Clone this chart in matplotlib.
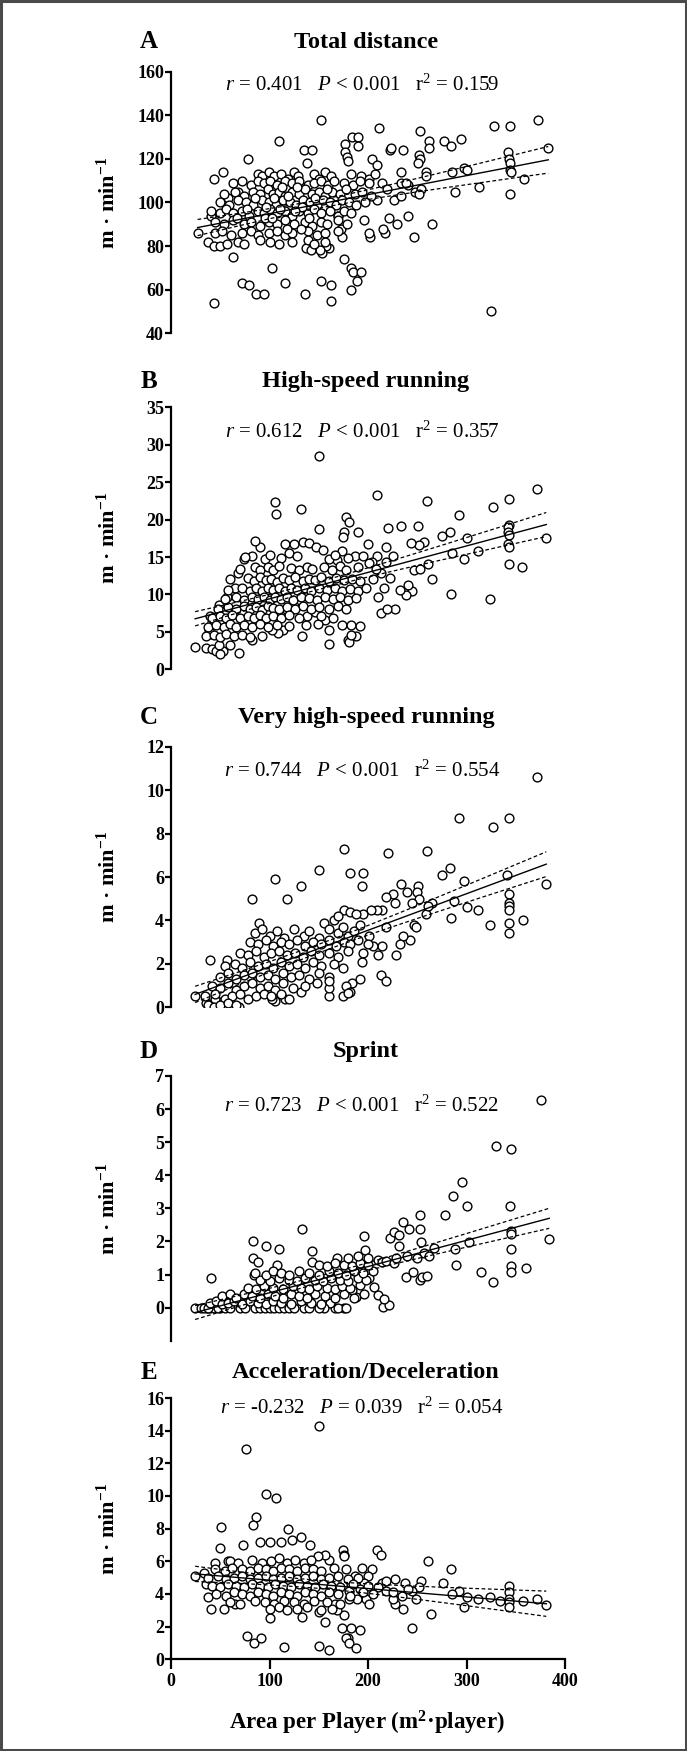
"""Five stacked scatter panels: match running metrics against area per player."""

import numpy as np
import matplotlib

matplotlib.use("Agg")
import matplotlib.pyplot as plt
from matplotlib.patches import Rectangle

W, H = 687, 1751

# ---- data: (area per player, m/min) ----
total_distance = [
    (27, 86), (44, 54), (44, 111), (53, 114), (41, 94), (38, 82), (44, 80), (50, 80), (57, 81), (63, 75),
    (58, 102), (68, 105), (78, 120), (72, 63), (79, 62), (86, 58), (94, 58), (103, 70), (110, 128), (116, 63),
    (136, 58), (135, 124), (143, 124), (138, 118), (152, 138), (152, 64), (162, 62), (162, 55), (176, 74),
    (183, 70), (185, 68), (193, 68), (189, 64), (183, 60), (177, 127), (177, 123), (184, 130), (190, 130),
    (190, 126), (179, 121), (180, 119), (211, 134), (204, 120), (209, 117), (222, 124), (223, 125), (236, 124),
    (253, 133), (262, 128), (262, 125), (252, 122), (253, 120), (251, 118), (277, 128), (284, 126), (294, 129),
    (285, 114), (297, 116), (301, 115), (328, 135), (344, 135), (373, 138), (383, 125), (342, 123), (343, 120),
    (344, 118), (344, 115), (345, 114), (344, 104), (358, 111), (325, 50), (313, 107), (288, 105), (265, 90),
    (247, 84), (241, 94), (229, 90), (217, 86), (215, 88), (202, 84), (201, 86), (221, 93), (226, 101),
    (209, 101), (234, 103), (234, 114), (233, 109), (214, 109), (219, 106), (248, 105), (254, 106), (252, 104),
    (259, 114), (259, 112), (241, 108), (239, 109), (196, 92), (174, 84), (173, 88), (170, 94), (160, 79),
    (157, 80), (153, 77), (151, 78), (137, 79), (142, 78),
    (88, 113), (92, 112), (99, 114), (105, 112), (112, 113), (119, 111), (125, 114), (129, 112), (145, 113),
    (150, 111), (156, 114), (162, 112), (183, 113), (193, 112), (201, 111), (207, 113),
    (63, 109), (72, 110), (81, 108), (88, 110), (94, 109), (101, 110), (108, 108), (116, 110), (123, 109),
    (130, 110), (139, 108), (145, 109), (152, 110), (159, 108), (165, 110), (176, 109), (185, 108), (192, 110),
    (201, 109),
    (54, 104), (65, 105), (74, 103), (83, 105), (90, 104), (98, 106), (104, 104), (110, 105), (116, 103),
    (123, 105), (130, 104), (136, 106), (143, 104), (150, 105), (156, 103), (163, 105), (172, 104), (178, 106),
    (187, 104), (194, 105), (203, 103),
    (50, 100), (59, 99), (68, 101), (76, 100), (83, 99), (92, 101), (99, 100), (107, 99), (114, 101),
    (121, 100), (127, 99), (134, 101), (141, 100), (148, 99), (154, 101), (161, 100), (168, 99), (174, 101),
    (181, 100), (188, 99), (197, 100),
    (41, 96), (50, 95), (56, 97), (63, 95), (72, 96), (79, 94), (88, 96), (94, 95), (101, 97), (108, 95),
    (116, 96), (123, 94), (130, 96), (139, 95), (145, 97), (152, 95), (161, 96), (170, 94), (176, 96), (183, 95),
    (45, 91), (54, 90), (63, 92), (74, 90), (81, 91), (90, 89), (99, 91), (108, 90), (116, 92), (125, 90),
    (136, 91), (143, 89), (152, 91), (158, 90), (170, 92), (179, 90),
    (45, 86), (52, 87), (61, 85), (72, 86), (81, 87), (88, 85), (99, 86), (108, 87), (116, 85), (123, 86),
    (139, 87), (148, 85), (156, 86), (170, 87),
    (68, 82), (74, 81), (90, 83), (101, 82), (110, 81), (123, 82), (139, 83), (145, 81), (156, 82),
    (85, 102), (96, 98), (111, 97), (119, 103), (128, 107), (133, 98), (146, 102), (158, 106), (95, 93),
    (105, 102), (126, 96), (113, 107), (140, 93), (77, 97), (67, 93), (132, 88), (118, 88), (103, 93),
]

high_speed = [
    (24.5, 3.0), (36, 2.8), (41.5, 2.7), (46, 2.4), (52.6, 2.4), (68.7, 2.2), (49, 3.2), (60, 3.2), (50, 2.0),
    (40, 4.7), (39, 5.2), (40, 7.1), (49, 8.6), (57, 9.7), (65, 10.8), (68, 12.9), (74.5, 14.7), (82, 15.1),
    (90, 16.3), (85.6, 17.1), (82.5, 3.9), (106, 22.3), (107, 20.7), (132, 21.4), (150, 28.5), (150, 18.8),
    (209, 23.3), (260, 22.5), (220, 18.9), (233, 19.2), (251, 19.1), (292.5, 20.6), (327, 21.7), (343, 22.7),
    (372, 24.1), (381, 17.6), (343, 19.3), (342.5, 19.0), (342.5, 18.3), (343, 18.0), (342.5, 16.7),
    (343, 16.3), (343, 14.1), (356.7, 13.7), (323.7, 9.4), (284.5, 10.0), (312, 15.8), (300, 17.5),
    (297, 14.8), (285, 15.5), (275, 17.8), (283, 18.3), (265, 12.0), (261, 14.1), (257, 17.0), (252, 16.6),
    (244, 16.9), (247, 13.2), (253, 13.4), (245, 10.5), (239, 9.9), (232, 10.6), (241, 11.2), (227, 8.0),
    (213, 7.5), (219, 8.1), (218.5, 16.3), (225, 15.1), (218.5, 14.3), (213, 12.8), (216, 10.9), (210, 9.7),
    (200, 16.8), (209, 15.1), (204, 14.3), (190, 18.4), (178, 20.3), (181, 19.7), (176, 18.3), (175, 17.7),
    (174, 5.9), (183, 5.9), (192, 5.8), (180, 3.9), (181, 3.6), (188, 4.4), (183, 4.6), (160, 3.4), (160, 5.2),
    (156, 6.6), (149, 6.0), (137, 5.9), (133, 4.5), (114, 5.2), (109, 4.9), (102.6, 5.2), (118, 7.9),
    (125, 8.4), (138, 7.1), (146, 7.7), (116, 16.8), (120, 15.5), (125, 16.7), (134, 17.0), (140, 16.9),
    (147, 16.3), (154, 15.9), (169, 14.6), (174, 15.8), (187, 15.2), (195, 15.1), (201, 14.2),
    (75, 15.0), (95, 14.8), (100, 15.3), (112, 14.9), (128, 15.2), (160, 14.8), (166, 15.3), (180, 14.9),
    (70, 13.4), (85, 13.7), (90, 13.3), (98, 13.6), (104, 13.2), (110, 13.8), (122, 13.5), (130, 13.2),
    (138, 13.7), (143, 13.4), (155, 13.6), (163, 13.2), (172, 13.8), (178, 13.3), (190, 13.6), (208, 13.4),
    (60, 12.0), (78, 12.2), (84, 11.8), (90, 12.3), (96, 11.9), (102, 12.1), (108, 11.7), (114, 12.2),
    (120, 11.9), (126, 12.3), (134, 11.8), (140, 12.1), (146, 11.9), (152, 12.3), (160, 11.8), (168, 12.2),
    (176, 11.9), (184, 12.1), (192, 11.8), (205, 12.0), (222, 12.2),
    (58, 10.6), (72, 10.9), (80, 10.5), (86, 10.8), (92, 10.4), (98, 10.9), (104, 10.6), (110, 10.8),
    (116, 10.4), (122, 10.9), (128, 10.6), (136, 10.8), (142, 10.5), (150, 10.9), (158, 10.6), (166, 10.8),
    (174, 10.4), (182, 10.7), (190, 10.5), (198, 10.8),
    (55, 9.4), (66, 9.6), (74, 9.3), (82, 9.7), (88, 9.4), (94, 9.6), (100, 9.2), (106, 9.7), (112, 9.4),
    (118, 9.6), (124, 9.3), (132, 9.7), (140, 9.5), (148, 9.3), (156, 9.7), (164, 9.4), (172, 9.6),
    (180, 9.3), (188, 9.5),
    (48, 8.1), (58, 8.3), (66, 8.0), (74, 8.4), (80, 8.1), (86, 8.3), (92, 7.9), (98, 8.4), (104, 8.2),
    (110, 8.0), (118, 8.3), (126, 8.1), (134, 8.4), (142, 8.0), (150, 8.3), (160, 8.1), (170, 8.4), (178, 8.0),
    (42, 6.9), (50, 7.1), (56, 6.8), (62, 7.2), (70, 6.9), (78, 7.1), (84, 6.8), (90, 7.2), (96, 6.9),
    (104, 7.1), (112, 6.8), (120, 7.2), (130, 6.9), (152, 7.1), (164, 6.8),
    (38, 5.7), (46, 5.9), (54, 5.6), (60, 6.0), (66, 5.7), (74, 5.9), (82, 5.6), (90, 6.0), (98, 5.7),
    (108, 5.9), (120, 5.8),
    (36, 4.4), (44, 4.6), (50, 4.3), (56, 4.7), (64, 4.4), (72, 4.6), (80, 4.3), (92, 4.5),
]

very_high_speed = [
    (24.5, 0.53), (40, 2.2), (57, 2.2), (82.5, 5.0), (89, 3.9), (106, 5.9), (118, 5.0), (132, 5.6), (150, 6.3),
    (176, 7.3), (182, 6.2), (195, 6.2), (194, 5.6), (220, 7.1), (260, 7.2), (292.5, 8.7), (327, 8.3),
    (343, 8.7), (372, 10.6), (381, 5.7), (341, 6.1), (343, 5.2), (343, 4.8), (343, 4.65), (343, 4.5),
    (343, 3.9), (343, 3.4), (357, 4.0), (324, 3.8), (312, 4.5), (300, 4.6), (284.5, 4.1), (287, 4.9),
    (275, 6.1), (283, 6.4), (297, 5.8), (265, 4.8), (259, 4.3), (261, 4.65), (251, 5.6), (250, 5.3),
    (252, 5.0), (245, 4.8), (247, 3.8), (249, 3.7), (243, 3.1), (236, 3.3), (232, 2.9), (228, 2.4),
    (233, 5.7), (240, 5.3), (225, 5.2), (218.5, 5.1), (227, 4.8), (214, 4.5), (218, 3.7), (214, 2.8),
    (213, 1.5), (218.5, 1.2), (209, 4.5), (203, 4.5), (195, 4.3), (201, 3.3), (205, 2.8), (210, 2.4),
    (195, 2.5), (194, 2.1), (192, 1.3), (184, 1.1), (178, 1.0), (182, 0.7), (175, 0.53), (180, 0.65),
    (160, 0.53), (160, 0.9), (132, 0.7), (116, 0.4), (106, 0.3), (103, 0.4), (68.7, 0.0), (35.7, 0.2),
    (40, 0.15), (49, 0.15), (51, 0.23), (45, 0.4), (176, 4.5), (182, 4.4), (188, 4.3), (165, 4.0),
    (170, 4.2), (155, 3.9),
    (85, 3.4), (92, 3.6), (100, 3.3), (108, 3.5), (115, 3.2), (125, 3.6), (135, 3.3), (140, 3.5), (150, 3.2),
    (160, 3.6), (170, 3.4), (175, 3.7), (180, 3.3), (186, 3.5), (192, 3.8),
    (80, 3.0), (88, 2.9), (96, 3.1), (104, 2.8), (112, 3.0), (120, 2.9), (128, 3.1), (136, 2.8), (144, 3.0),
    (152, 2.9), (160, 3.1), (168, 2.8), (176, 3.0), (182, 2.9), (190, 3.1), (200, 2.9),
    (70, 2.5), (78, 2.4), (86, 2.6), (94, 2.3), (102, 2.5), (110, 2.6), (118, 2.4), (126, 2.5), (134, 2.3),
    (142, 2.6), (150, 2.4), (160, 2.5), (170, 2.3), (180, 2.6),
    (55, 1.9), (65, 2.0), (72, 1.8), (80, 2.1), (88, 1.9), (96, 2.0), (104, 1.8), (112, 2.1), (120, 1.9),
    (128, 2.0), (136, 1.8), (144, 2.1), (152, 1.9), (165, 2.0), (175, 1.8),
    (50, 1.4), (58, 1.6), (66, 1.3), (74, 1.5), (82, 1.6), (90, 1.4), (98, 1.5), (106, 1.3), (114, 1.6),
    (122, 1.4), (130, 1.5), (140, 1.3), (150, 1.6), (160, 1.4),
    (42, 1.0), (50, 0.9), (58, 1.1), (66, 0.8), (74, 1.0), (82, 1.1), (90, 0.9), (98, 1.0), (106, 0.8),
    (114, 1.1), (124, 0.9), (136, 1.0), (148, 1.1), (160, 1.2),
    (35, 0.5), (45, 0.6), (55, 0.4), (62, 0.5), (70, 0.6), (78, 0.4), (86, 0.5), (94, 0.6), (102, 0.5),
    (112, 0.6), (120, 0.4),
    (38, 0.1), (44, 0.0), (50, 0.1), (58, 0.2), (66, 0.1),
]

sprint = [
    (24.5, 0), (36.6, 0), (40, 0), (44, 0), (50, 0), (41, 0.89), (83, 2.0), (96, 1.87), (110, 1.78), (83, 1.5),
    (88, 1.39), (108, 1.28), (84, 1.0), (133, 2.38), (143, 1.7), (143, 1.39), (169, 1.5), (196, 2.18),
    (197, 1.73), (210, 1.44), (214, 1.39), (222, 2.1), (226, 2.3), (231, 2.2), (236, 2.59), (242, 2.37),
    (231, 1.87), (253, 2.79), (253, 2.37), (254, 1.98), (257, 1.65), (267, 1.8), (262, 1.55), (278, 2.79),
    (286, 3.38), (295, 3.79), (300, 3.08), (289, 1.29), (288, 1.78), (303, 1.99), (315, 1.09), (327, 0.79),
    (330, 4.89), (345.6, 4.8), (344, 3.08), (345.6, 2.32), (345.6, 2.23), (345.6, 1.78), (345.6, 1.27),
    (345.6, 1.09), (360, 1.19), (375.5, 6.28), (384, 2.09), (239, 0.94), (246, 1.09), (253, 0.84),
    (255, 0.94), (260, 0.97), (210, 0.38), (215, 0.03), (221, 0.08), (216, 0.25), (206, 0.64), (201, 0.89),
    (188, 0.33), (184, 0.53), (176, 0), (166, 0), (161, 0.13), (155, 0),
    (30, 0), (34, 0), (38, 0), (48, 0), (55, 0), (60, 0), (70, 0), (75, 0), (85, 0), (90, 0), (95, 0),
    (100, 0), (105, 0), (110, 0), (115, 0), (120, 0), (125, 0), (135, 0), (140, 0), (150, 0), (170, 0), (178, 0),
    (40, 0.15), (46, 0.2), (52, 0.1), (58, 0.15), (64, 0.2), (72, 0.1), (80, 0.2), (88, 0.15), (96, 0.1),
    (104, 0.2), (112, 0.15), (122, 0.1), (132, 0.2), (142, 0.15), (152, 0.1),
    (52, 0.35), (60, 0.4), (66, 0.3), (74, 0.4), (82, 0.35), (90, 0.3), (98, 0.4), (106, 0.35), (114, 0.3),
    (122, 0.4), (130, 0.35), (138, 0.3), (146, 0.4), (156, 0.35), (166, 0.3), (176, 0.4), (186, 0.3), (196, 0.4),
    (78, 0.6), (86, 0.55), (94, 0.65), (104, 0.6), (114, 0.55), (124, 0.65), (132, 0.6), (140, 0.55),
    (148, 0.65), (158, 0.6), (166, 0.55), (174, 0.65), (182, 0.6), (192, 0.7),
    (90, 0.85), (100, 0.8), (110, 0.9), (120, 0.85), (128, 0.8), (136, 0.9), (146, 0.85), (154, 0.8),
    (162, 0.9), (172, 0.85), (180, 0.8), (190, 0.9), (198, 0.85),
    (85, 1.05), (96, 1.0), (104, 1.1), (112, 1.05), (120, 1.0), (130, 1.1), (140, 1.05), (150, 1.0),
    (160, 1.1), (170, 1.05), (178, 1.0), (186, 1.1), (195, 1.05), (205, 1.1),
    (150, 1.3), (158, 1.25), (166, 1.35), (176, 1.3), (184, 1.25), (192, 1.35), (200, 1.3), (218, 1.4), (226, 1.35),
    (180, 1.5), (190, 1.55), (200, 1.5), (228, 1.5), (240, 1.55), (250, 1.5),
]

acc_dec = [
    (24.5, 5.1), (76, 12.9), (150, 14.3), (96, 10.1), (107, 9.9), (86, 8.7), (83, 8.2), (51, 8.1), (50, 6.8),
    (73, 7.0), (90, 7.2), (100, 7.2), (119, 8.0), (132, 7.5), (141, 7.0), (112, 7.2), (123, 7.3), (175, 6.7),
    (176, 6.4), (176, 6.3), (209, 6.7), (213, 6.4), (261, 6.0), (284, 5.5), (276, 4.7), (264, 2.8), (245, 1.9),
    (297, 3.2), (292, 4.2), (285, 4.0), (301, 3.8), (312, 3.7), (324, 3.8), (334, 3.6), (343, 4.5), (343, 4.1),
    (343, 3.7), (343, 3.5), (343, 3.2), (357, 3.6), (372, 3.7), (381, 3.3), (254, 4.8), (252, 4.4), (245, 4.2),
    (238, 4.7), (241, 4.3), (249, 3.7), (236, 3.1), (227, 3.4), (225, 3.7), (218, 4.2), (214, 4.7), (227, 4.9),
    (218, 4.8), (204, 5.5), (200, 5.1), (196, 4.7), (192, 4.3), (198, 3.7), (201, 3.4), (189, 3.7), (194, 5.6),
    (187, 5.1), (183, 4.6), (181, 4.2), (181, 3.7), (176, 2.7), (174, 1.9), (183, 1.9), (192, 1.8), (180, 1.3),
    (178, 1.3), (181, 1.0), (188, 0.7), (150, 0.8), (160, 0.6), (115, 0.75), (77, 1.4), (84, 1.0), (91, 1.3),
    (156, 2.3), (133, 2.6), (100, 2.5), (169, 3.0), (167, 3.4), (163, 3.1), (150, 2.9), (160, 6.1), (156, 6.4),
    (149, 6.3), (40.6, 3.1), (53.5, 3.1), (38, 3.8), (64.7, 3.4), (35.7, 4.6), (33.4, 5.3), (44.6, 5.9), (58, 6.0),
    (60, 6.0), (68, 5.9), (82, 6.1), (92, 5.9), (102, 6.0), (110, 6.2), (118, 5.9), (126, 6.1), (135, 5.9), (142, 6.1),
    (45, 5.5), (55, 5.4), (62, 5.6), (72, 5.5), (80, 5.4), (88, 5.6), (96, 5.5), (104, 5.4), (112, 5.6),
    (120, 5.5), (128, 5.4), (136, 5.6), (144, 5.5), (152, 5.4), (165, 5.6), (178, 5.5),
    (38, 5.0), (48, 5.1), (56, 4.9), (64, 5.0), (72, 5.1), (80, 4.9), (88, 5.0), (96, 5.1), (104, 4.9),
    (112, 5.0), (120, 5.1), (128, 4.9), (136, 5.0), (144, 5.1), (152, 4.9), (160, 5.0), (170, 5.1), (180, 4.9), (190, 5.0),
    (42, 4.5), (50, 4.4), (58, 4.6), (66, 4.5), (74, 4.4), (82, 4.6), (90, 4.5), (98, 4.4), (106, 4.6),
    (114, 4.5), (122, 4.4), (130, 4.6), (138, 4.5), (146, 4.4), (154, 4.6), (162, 4.5), (172, 4.4), (185, 4.6),
    (200, 4.5), (210, 4.4),
    (46, 4.0), (56, 3.9), (64, 4.1), (72, 4.0), (80, 3.9), (88, 4.1), (96, 4.0), (104, 3.9), (112, 4.1),
    (120, 4.0), (128, 3.9), (136, 4.1), (144, 4.0), (152, 3.9), (160, 4.1), (170, 4.0), (182, 3.9), (195, 4.1),
    (205, 4.0), (225, 4.1), (235, 3.9),
    (60, 3.5), (70, 3.4), (85, 3.6), (95, 3.5), (105, 3.4), (115, 3.6), (125, 3.5), (135, 3.4), (145, 3.6),
    (158, 3.5), (172, 3.4),
    (100, 3.1), (110, 3.2), (118, 3.0), (128, 3.1), (138, 3.2), (152, 3.0),
]

letters = ["A", "B", "C", "D", "E"]
titles = ["Total distance", "High-speed running", "Very high-speed running", "Sprint",
          "Acceleration/Deceleration"]
stats = [
    r"$\it{r}$ = 0.401   $\it{P}$ < 0.001   r$^2$ = 0.159",
    r"$\it{r}$ = 0.612   $\it{P}$ < 0.001   r$^2$ = 0.357",
    r"$\it{r}$ = 0.744   $\it{P}$ < 0.001   r$^2$ = 0.554",
    r"$\it{r}$ = 0.723   $\it{P}$ < 0.001   r$^2$ = 0.522",
    r"$\it{r}$ = -0.232   $\it{P}$ = 0.039   r$^2$ = 0.054",
]
y_limits = [(40, 160), (0, 35), (0, 12), (-1, 7), (0, 16)]
y_ticks = [range(40, 161, 20), range(0, 36, 5), range(0, 13, 2), range(0, 8), range(0, 17, 2)]
x_ticks = [0, 100, 200, 300, 400]

# layout in reference pixels: axes top/bottom, title row, stats row
LAYOUT = [
    dict(top=71.7, bottom=333.3, title=42, stat=85),
    dict(top=407.3, bottom=669.3, title=382, stat=432),
    dict(top=746.7, bottom=1007.3, title=718, stat=771),
    dict(top=1076.0, bottom=1340.8, title=1051, stat=1106),
    dict(top=1398.0, bottom=1659.3, title=1372, stat=1408),
]
AX_LEFT, AX_WIDTH = 171, 394

plt.rcParams["font.family"] = ["Liberation Serif", "DejaVu Serif"]
plt.rcParams["mathtext.fontset"] = "custom"
plt.rcParams["mathtext.rm"] = "Liberation Serif"
plt.rcParams["mathtext.it"] = "Liberation Serif:italic"
plt.rcParams["mathtext.bf"] = "Liberation Serif:bold"


def fy(px):
    return 1 - px / H


def fx(px):
    return px / W


def fit_with_band(x, y, grid):
    n = len(x)
    slope, intercept = np.polyfit(x, y, 1)
    pred = intercept + slope * grid
    resid = y - (intercept + slope * x)
    s = np.sqrt(np.sum(resid ** 2) / (n - 2))
    sxx = np.sum((x - x.mean()) ** 2)
    half = 1.97 * s * np.sqrt(1 / n + (grid - x.mean()) ** 2 / sxx)
    return pred, pred - half, pred + half


def main():
    fig = plt.figure(figsize=(W / 100, H / 100), dpi=100)
    fig.patches.append(Rectangle((0.0015, 0.0008), 0.997, 0.9984, transform=fig.transFigure,
                                 fill=False, edgecolor="#4a4a4a", linewidth=2.2))
    panels = [total_distance, high_speed, very_high_speed, sprint, acc_dec]
    for i, points in enumerate(panels):
        lay = LAYOUT[i]
        ax = fig.add_axes([fx(AX_LEFT), fy(lay["bottom"]), fx(AX_WIDTH),
                           (lay["bottom"] - lay["top"]) / H])
        data = np.array(points, dtype=float)
        x, y = data[:, 0], data[:, 1]
        ax.scatter(x, y, s=40, facecolor="white", edgecolor="black", linewidth=1.0, zorder=3)
        grid = np.linspace(x.min(), x.max(), 200)
        pred, lo, hi = fit_with_band(x, y, grid)
        ax.plot(grid, pred, color="black", linewidth=1.0, zorder=4)
        ax.plot(grid, lo, color="black", linewidth=0.9, linestyle=(0, (3, 2)), zorder=4)
        ax.plot(grid, hi, color="black", linewidth=0.9, linestyle=(0, (3, 2)), zorder=4)

        ax.set_xlim(0, 400)
        ax.set_ylim(*y_limits[i])
        ax.set_yticks(list(y_ticks[i]))
        for side in ("top", "right"):
            ax.spines[side].set_visible(False)
        ax.spines["left"].set_linewidth(1.6)
        ax.spines["left"].set_bounds(y_limits[i][0], y_limits[i][1])
        ax.tick_params(axis="y", direction="out", length=4, width=1.6, pad=1, labelsize=13)
        if i < 4:
            ax.spines["bottom"].set_visible(False)
            ax.set_xticks([])
        else:
            ax.spines["bottom"].set_linewidth(1.6)
            ax.set_xticks(x_ticks)
            ax.tick_params(axis="x", direction="out", length=7, width=1.6, pad=3, labelsize=13)
        for lab in ax.get_yticklabels() + ax.get_xticklabels():
            lab.set_fontweight("bold")
        ax.patch.set_alpha(0)

        fig.text(fx(149), fy(lay["title"]), letters[i], ha="center", va="center",
                 fontsize=18, fontweight="bold")
        fig.text(fx(366), fy(lay["title"]), titles[i], ha="center", va="center",
                 fontsize=17.5, fontweight="bold")
        fig.text(fx(362), fy(lay["stat"]), stats[i], ha="center", va="center", fontsize=15)
        fig.text(fx(108), fy((lay["top"] + lay["bottom"]) / 2), r"m · min$^{\mathbf{-1}}$",
                 rotation=90, ha="center", va="center", fontsize=16, fontweight="bold")

    fig.text(fx(367), fy(1723), r"Area per Player (m$^{\mathbf{2}}$·player)", ha="center",
             va="center", fontsize=16.5, fontweight="bold")
    fig.savefig("out.png", dpi=100)
    plt.close(fig)


if __name__ == "__main__":
    main()
